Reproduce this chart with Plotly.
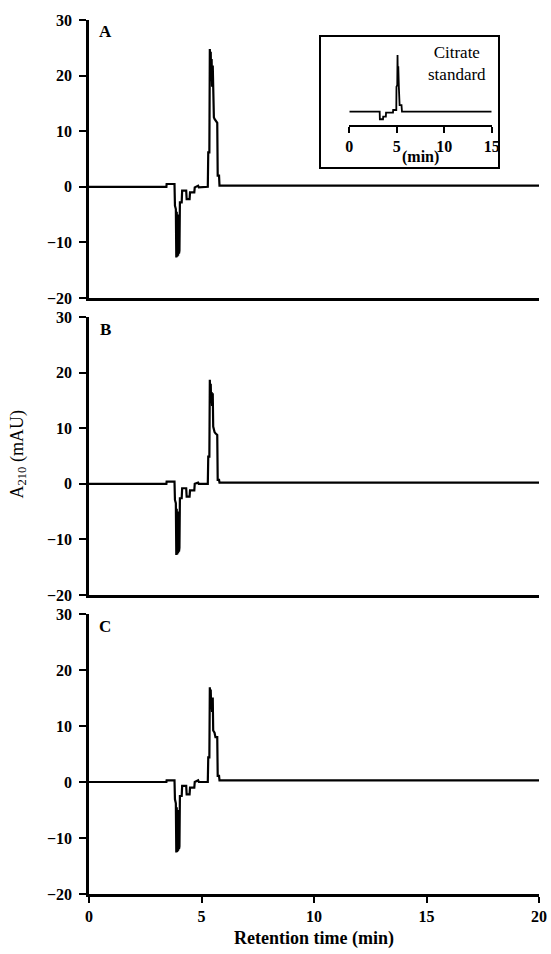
import plotly.graph_objects as go

# Retention time grid (min) shared by panels A, B, C
time_min = [0, 3.44, 3.45, 3.80, 3.82, 3.86, 3.88, 3.90, 3.92, 3.94, 3.96, 3.98, 4.00,
            4.02, 4.04, 4.12, 4.14, 4.32, 4.34, 4.47, 4.49, 4.68, 4.70, 4.85, 4.88,
            5.28, 5.30, 5.35, 5.37, 5.39, 5.41, 5.43, 5.45, 5.47, 5.50, 5.52, 5.55,
            5.58, 5.62, 5.66, 5.70, 5.72, 5.78, 5.80, 20]

a210_A = [0, 0, 0.5, 0.5, -3.4, -4.0, -12.7, -4.5, -12.6, -5.0, -12.4, -6.0, -12.0,
          -11.5, -2.8, -2.8, -0.7, -0.7, -2.2, -2.2, -1.0, -1.0, -0.1, 0.2, -0.1,
          0.0, 6.2, 6.2, 24.8, 20.0, 24.3, 19.0, 23.0, 18.0, 21.8, 13.3, 12.5,
          12.2, 12.0, 11.8, 11.5, 2.0, 2.0, 0.2, 0.2]

a210_B = [0, 0, 0.4, 0.4, -2.9, -3.5, -12.8, -4.5, -12.7, -5.0, -12.5, -6.0, -12.2,
          -11.5, -2.6, -2.6, -0.8, -0.8, -2.3, -2.3, -1.2, -1.2, 0.0, 0.2, 0.0,
          0.0, 4.9, 4.9, 18.7, 15.0, 18.0, 14.5, 16.5, 14.0, 16.3, 10.3, 9.5,
          9.3, 9.1, 9.0, 8.8, 0.7, 0.7, 0.2, 0.2]

a210_C = [0, 0, 0.3, 0.3, -3.1, -3.8, -12.6, -4.5, -12.5, -5.0, -12.3, -6.0, -12.0,
          -11.5, -2.5, -2.5, -0.7, -0.7, -2.2, -2.2, -1.0, -1.0, 0.0, 0.3, 0.0,
          0.0, 4.4, 4.4, 16.9, 13.5, 16.5, 13.0, 15.1, 12.5, 15.1, 9.2, 9.0,
          8.8, 8.0, 8.0, 8.0, 1.1, 1.1, 0.3, 0.3]

# Inset: citrate standard
std_time = [0, 3.20, 3.22, 3.55, 3.57, 3.85, 3.87, 4.60, 4.62, 4.95, 4.97, 5.05,
            5.08, 5.12, 5.16, 5.22, 5.30, 5.50, 5.55, 15]
std_a210 = [0, 0, -4.0, -4.0, -2.6, -2.6, -0.5, -0.5, 0.9, 0.9, 13.2, 14.0,
            30.0, 14.0, 24.0, 13.0, 3.5, 3.5, 0, 0]

panel_labels = ["A", "B", "C"]
x_ticks = [0, 5, 10, 15, 20]
y_ticks = [-20, -10, 0, 10, 20, 30]
inset_ticks = [0, 5, 10, 15]

FONT = "Liberation Serif"
W, H = 551, 954
ML, MR, MT, MB = 89, 12, 20, 60
PW, PH = W - ML - MR, H - MT - MB


def xp(px):
    return (px - ML) / PW


def yp(py):
    return 1 - (py - MT) / PH


domains = [[yp(298), 1.0], [yp(595), yp(317)], [0.0, yp(614)]]
label_y = [32, 329, 626]

fig = go.Figure()
series = [a210_A, a210_B, a210_C]
for i, vals in enumerate(series):
    n = "" if i == 0 else str(i + 1)
    fig.add_trace(go.Scatter(x=time_min, y=vals, mode="lines",
                             line=dict(color="black", width=2.2),
                             xaxis="x" + n, yaxis="y" + n, showlegend=False,
                             hoverinfo="skip", cliponaxis=False))

fig.add_trace(go.Scatter(x=std_time, y=std_a210, mode="lines",
                         line=dict(color="black", width=1.8),
                         xaxis="x4", yaxis="y4", showlegend=False, hoverinfo="skip"))

tickfont = dict(family=FONT, size=16, color="black", weight="bold")
layout = dict(
    width=W, height=H, autosize=False,
    margin=dict(l=ML, r=MR, t=MT, b=MB, autoexpand=False),
    paper_bgcolor="white", plot_bgcolor="white", showlegend=False,
)
for i in range(3):
    n = "" if i == 0 else str(i + 1)
    last = i == 2
    layout["xaxis" + n] = dict(
        domain=[0, 1], anchor="y" + n, range=[0, 20], showgrid=False, zeroline=False,
        showline=True, linecolor="black", linewidth=2.5, automargin=False,
        ticks="outside" if last else "", ticklen=6, tickwidth=2, tickcolor="black",
        tickvals=x_ticks, showticklabels=last, tickfont=tickfont,
    )
    layout["yaxis" + n] = dict(
        domain=domains[i], anchor="x" + n, range=[-20, 30], showgrid=False,
        zeroline=False, showline=True, linecolor="black", linewidth=2.5,
        automargin=False, ticklabelstandoff=4,
        ticks="outside", ticklen=7, tickwidth=2, tickcolor="black",
        tickvals=y_ticks, tickfont=tickfont,
    )

layout["xaxis4"] = dict(
    domain=[xp(349.3), xp(491.7)], anchor="y4", range=[0, 15], showgrid=False,
    zeroline=False, showline=True, linecolor="black", linewidth=2, automargin=False,
    ticks="outside", ticklen=6, tickwidth=2, tickcolor="black",
    tickvals=inset_ticks, tickfont=tickfont,
)
layout["yaxis4"] = dict(domain=[yp(125), yp(45)], anchor="x4", range=[-7.04, 35.3],
                        visible=False, automargin=False)

fig.update_layout(**layout)

fig.add_shape(type="rect", xref="paper", yref="paper",
              x0=xp(320), x1=xp(499), y0=yp(168), y1=yp(36),
              line=dict(color="black", width=2), fillcolor="rgba(0,0,0,0)")

annotations = []
for i, lab in enumerate(panel_labels):
    annotations.append(dict(text=lab, xref="paper", yref="paper", x=xp(105), y=yp(label_y[i]),
                            showarrow=False, xanchor="center", yanchor="middle",
                            font=dict(family=FONT, size=17, color="black", weight="bold")))
annotations.append(dict(text="Citrate<br>standard", xref="paper", yref="paper",
                        x=xp(457), y=yp(64), showarrow=False, xanchor="center",
                        yanchor="middle", align="center",
                        font=dict(family=FONT, size=17, color="black")))
annotations.append(dict(text="(min)", xref="paper", yref="paper",
                        x=xp(420.5), y=yp(157), showarrow=False, xanchor="center",
                        yanchor="middle",
                        font=dict(family=FONT, size=16, color="black", weight="bold")))
annotations.append(dict(text="A<sub>210</sub> (mAU)", xref="paper", yref="paper",
                        x=xp(17.5), y=yp(455), showarrow=False, textangle=-90,
                        xanchor="center", yanchor="middle",
                        font=dict(family=FONT, size=18, color="black")))
annotations.append(dict(text="Retention time (min)", xref="paper", yref="paper",
                        x=xp(314), y=yp(939), showarrow=False, xanchor="center",
                        yanchor="middle",
                        font=dict(family=FONT, size=18, color="black", weight="bold")))
fig.update_layout(annotations=annotations)

fig.write_html("out.html", config={"responsive": False})
